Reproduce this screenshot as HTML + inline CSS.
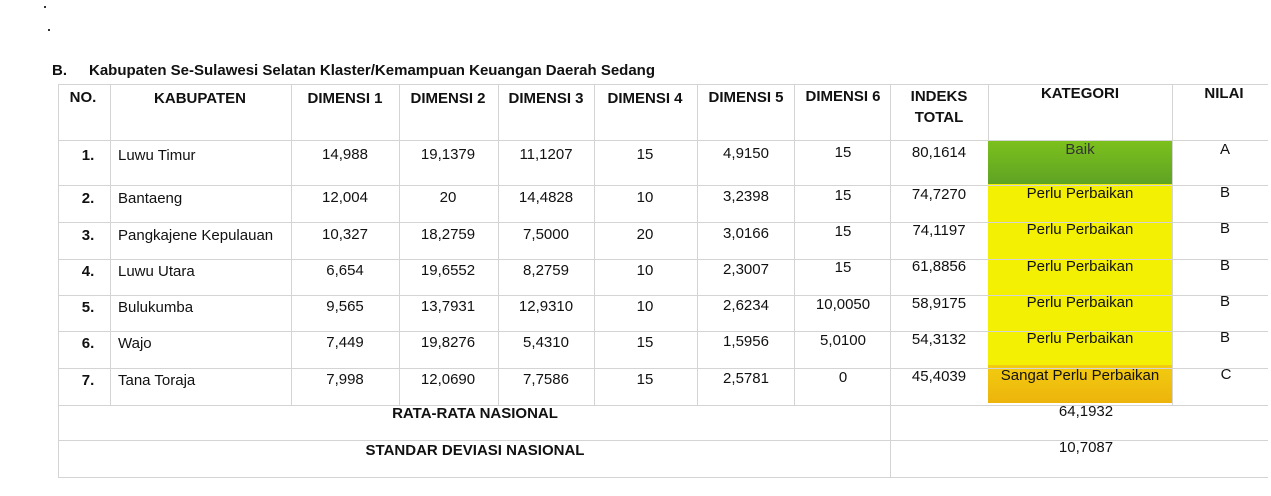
<!DOCTYPE html>
<html><head><meta charset="utf-8"><style>
body{margin:0;width:1271px;height:496px;background:#fff;position:relative;overflow:hidden;font-family:"Liberation Sans",Arial,sans-serif;color:#111}
.t{position:absolute;font-size:15px;white-space:nowrap;margin-top:-1px}
.b{font-weight:bold}
.h{position:absolute;height:1px;background:#d4d4d4}
.v{position:absolute;width:1px;background:#d4d4d4}
.c{text-align:center;transform:translateX(-50%)}
.f{position:absolute}
</style></head><body>
<div class="f" style="left:988px;top:140px;width:184px;height:44px;background:linear-gradient(#7cc11c,#5fa324)"></div>
<div class="f" style="left:988px;top:184px;width:184px;height:181px;background:#f4f004"></div>
<div class="f" style="left:988px;top:365px;width:185px;height:38px;background:linear-gradient(#f2cc10,#edb40c)"></div>

<div class="t b" style="left:52px;top:63px">B.</div>
<div class="t b" style="left:89px;top:63px">Kabupaten Se-Sulawesi Selatan Klaster/Kemampuan Keuangan Daerah Sedang</div>

<div class="h" style="left:58px;top:84px;width:1210px"></div>
<div class="h" style="left:58px;top:140px;width:1210px"></div>
<div class="h" style="left:58px;top:185px;width:1210px"></div>
<div class="h" style="left:58px;top:222px;width:1210px"></div>
<div class="h" style="left:58px;top:259px;width:1210px"></div>
<div class="h" style="left:58px;top:295px;width:1210px"></div>
<div class="h" style="left:58px;top:331px;width:1210px"></div>
<div class="h" style="left:58px;top:368px;width:1210px"></div>
<div class="h" style="left:58px;top:405px;width:1210px"></div>
<div class="h" style="left:58px;top:440px;width:1210px"></div>
<div class="h" style="left:58px;top:477px;width:1210px"></div>
<div class="v" style="left:58px;top:84px;height:394px"></div>
<div class="v" style="left:110px;top:84px;height:321px"></div>
<div class="v" style="left:291px;top:84px;height:321px"></div>
<div class="v" style="left:399px;top:84px;height:321px"></div>
<div class="v" style="left:498px;top:84px;height:321px"></div>
<div class="v" style="left:594px;top:84px;height:321px"></div>
<div class="v" style="left:697px;top:84px;height:321px"></div>
<div class="v" style="left:794px;top:84px;height:321px"></div>
<div class="v" style="left:890px;top:84px;height:394px"></div>
<div class="v" style="left:988px;top:84px;height:56px"></div>
<div class="v" style="left:1172px;top:84px;height:321px"></div>

<div class="t b c" style="left:83px;top:90px">NO.</div>
<div class="t b c" style="left:200px;top:91px">KABUPATEN</div>
<div class="t b c" style="left:345px;top:91px">DIMENSI 1</div>
<div class="t b c" style="left:448px;top:91px">DIMENSI 2</div>
<div class="t b c" style="left:546px;top:91px">DIMENSI 3</div>
<div class="t b c" style="left:645px;top:91px">DIMENSI 4</div>
<div class="t b c" style="left:746px;top:90px">DIMENSI 5</div>
<div class="t b c" style="left:843px;top:89px">DIMENSI 6</div>
<div class="t b c" style="left:939px;top:87px;text-align:center;line-height:21px">INDEKS<br>TOTAL</div>
<div class="t b c" style="left:1080px;top:86px">KATEGORI</div>
<div class="t b c" style="left:1224px;top:86px">NILAI</div>

<div class="t b c" style="left:88px;top:148px">1.</div><div class="t" style="left:118px;top:148px">Luwu Timur</div>
<div class="t c" style="left:345px;top:147px">14,988</div><div class="t c" style="left:448px;top:147px">19,1379</div><div class="t c" style="left:546px;top:147px">11,1207</div><div class="t c" style="left:645px;top:147px">15</div><div class="t c" style="left:746px;top:146px">4,9150</div><div class="t c" style="left:843px;top:145px">15</div><div class="t c" style="left:939px;top:145px">80,1614</div><div class="t c" style="left:1080px;top:142px;color:#333">Baik</div><div class="t c" style="left:1225px;top:142px">A</div>

<div class="t b c" style="left:88px;top:191px">2.</div><div class="t" style="left:118px;top:191px">Bantaeng</div>
<div class="t c" style="left:345px;top:190px">12,004</div><div class="t c" style="left:448px;top:190px">20</div><div class="t c" style="left:546px;top:190px">14,4828</div><div class="t c" style="left:645px;top:190px">10</div><div class="t c" style="left:746px;top:189px">3,2398</div><div class="t c" style="left:843px;top:188px">15</div><div class="t c" style="left:939px;top:187px">74,7270</div><div class="t c" style="left:1080px;top:186px">Perlu Perbaikan</div><div class="t c" style="left:1225px;top:185px">B</div>

<div class="t b c" style="left:88px;top:228px">3.</div><div class="t" style="left:118px;top:228px">Pangkajene Kepulauan</div>
<div class="t c" style="left:345px;top:227px">10,327</div><div class="t c" style="left:448px;top:227px">18,2759</div><div class="t c" style="left:546px;top:227px">7,5000</div><div class="t c" style="left:645px;top:227px">20</div><div class="t c" style="left:746px;top:226px">3,0166</div><div class="t c" style="left:843px;top:224px">15</div><div class="t c" style="left:939px;top:223px">74,1197</div><div class="t c" style="left:1080px;top:222px">Perlu Perbaikan</div><div class="t c" style="left:1225px;top:221px">B</div>

<div class="t b c" style="left:88px;top:264px">4.</div><div class="t" style="left:118px;top:264px">Luwu Utara</div>
<div class="t c" style="left:345px;top:263px">6,654</div><div class="t c" style="left:448px;top:263px">19,6552</div><div class="t c" style="left:546px;top:263px">8,2759</div><div class="t c" style="left:645px;top:263px">10</div><div class="t c" style="left:746px;top:262px">2,3007</div><div class="t c" style="left:843px;top:260px">15</div><div class="t c" style="left:939px;top:259px">61,8856</div><div class="t c" style="left:1080px;top:259px">Perlu Perbaikan</div><div class="t c" style="left:1225px;top:258px">B</div>

<div class="t b c" style="left:88px;top:300px">5.</div><div class="t" style="left:118px;top:300px">Bulukumba</div>
<div class="t c" style="left:345px;top:299px">9,565</div><div class="t c" style="left:448px;top:299px">13,7931</div><div class="t c" style="left:546px;top:299px">12,9310</div><div class="t c" style="left:645px;top:299px">10</div><div class="t c" style="left:746px;top:298px">2,6234</div><div class="t c" style="left:843px;top:297px">10,0050</div><div class="t c" style="left:939px;top:296px">58,9175</div><div class="t c" style="left:1080px;top:295px">Perlu Perbaikan</div><div class="t c" style="left:1225px;top:294px">B</div>

<div class="t b c" style="left:88px;top:336px">6.</div><div class="t" style="left:118px;top:336px">Wajo</div>
<div class="t c" style="left:345px;top:335px">7,449</div><div class="t c" style="left:448px;top:335px">19,8276</div><div class="t c" style="left:546px;top:335px">5,4310</div><div class="t c" style="left:645px;top:335px">15</div><div class="t c" style="left:746px;top:334px">1,5956</div><div class="t c" style="left:843px;top:333px">5,0100</div><div class="t c" style="left:939px;top:332px">54,3132</div><div class="t c" style="left:1080px;top:331px">Perlu Perbaikan</div><div class="t c" style="left:1225px;top:330px">B</div>

<div class="t b c" style="left:88px;top:373px">7.</div><div class="t" style="left:118px;top:373px">Tana Toraja</div>
<div class="t c" style="left:345px;top:372px">7,998</div><div class="t c" style="left:448px;top:372px">12,0690</div><div class="t c" style="left:546px;top:372px">7,7586</div><div class="t c" style="left:645px;top:372px">15</div><div class="t c" style="left:746px;top:371px">2,5781</div><div class="t c" style="left:843px;top:370px">0</div><div class="t c" style="left:939px;top:369px">45,4039</div><div class="t c" style="left:1080px;top:368px">Sangat Perlu Perbaikan</div><div class="t c" style="left:1226px;top:367px">C</div>

<div class="t b c" style="left:475px;top:406px">RATA-RATA NASIONAL</div>
<div class="t c" style="left:1086px;top:404px">64,1932</div>
<div class="t b c" style="left:475px;top:443px">STANDAR DEVIASI NASIONAL</div>
<div class="t c" style="left:1086px;top:440px">10,7087</div>

<div class="f" style="left:44px;top:6px;width:2px;height:2px;background:#333"></div>
<div class="f" style="left:48px;top:29px;width:2px;height:2px;background:#333"></div>
</body></html>
